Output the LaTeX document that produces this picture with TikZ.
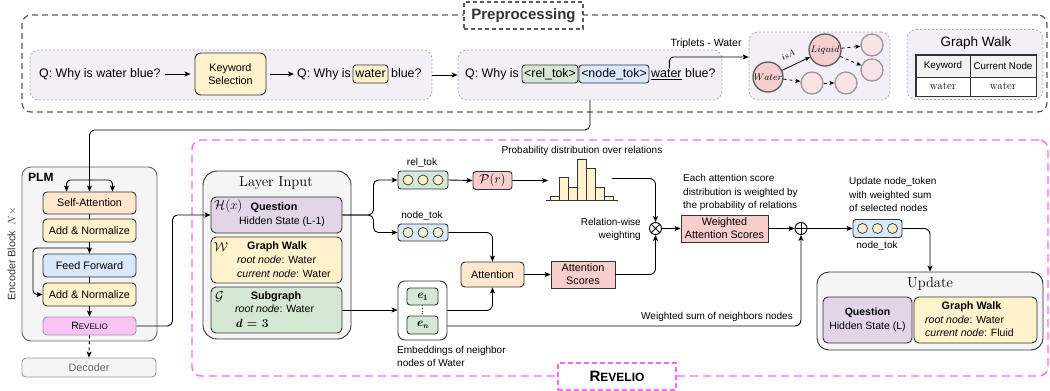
\RequirePackage{fix-cm}
\documentclass[tikz,border=0pt]{standalone}
\usepackage{fontspec}
\setsansfont{Liberation Sans}
\usetikzlibrary{arrows.meta}

\definecolor{frameGray}{HTML}{5A5A5A}
\definecolor{panelFill}{HTML}{F2F0F6}
\definecolor{panelLine}{HTML}{A8A8A8}
\definecolor{boxLine}{HTML}{333333}
\definecolor{yelFill}{HTML}{FFF2CC}
\definecolor{oraFill}{HTML}{FFE6CC}
\definecolor{bluFill}{HTML}{DAE8FC}
\definecolor{grnFill}{HTML}{D5E8D4}
\definecolor{purFill}{HTML}{E1D5E7}
\definecolor{redFill}{HTML}{F8CECC}
\definecolor{revFill}{HTML}{F9C3F5}
\definecolor{greyFill}{HTML}{F5F5F5}
\definecolor{greyLine}{HTML}{666666}
\definecolor{magLine}{HTML}{FF66FF}
\definecolor{nodePink}{HTML}{F4CDCF}
\definecolor{nodePale}{HTML}{F8E3E6}
\definecolor{nodeRim}{HTML}{999999}
\definecolor{beadFill}{HTML}{F7F0CF}
\definecolor{headFill}{HTML}{F2F2F2}

\newcommand{\fsz}[2]{\fontsize{#1}{#2}\selectfont}
\newcommand{\revname}[1]{R{\fontsize{#1}{#1}\selectfont EVELIO}}
\newcommand{\bvar}[1]{{\rmfamily\bfseries\itshape #1}}

\tikzset{
  arr/.style={draw=black, line width=0.9pt, -{Stealth[length=6pt,width=5pt,inset=1.5pt]}},
  garr/.style={draw=black, line width=0.8pt, -{Stealth[length=5pt,width=4pt,inset=1.2pt]}},
  ln/.style={draw=black, line width=0.9pt},
  box/.style={draw=boxLine, line width=0.9pt, rounded corners=4pt, align=center, font=\sffamily\fsz{10.8}{13}},
  sqbox/.style={box, rounded corners=0pt},
  lbl/.style={font=\sffamily\fsz{10}{13.5}, align=left},
  btxt/.style={font=\sffamily\fsz{10.5}{13}},
  qtxt/.style={font=\sffamily\fsz{12.4}{14}},
  panel/.style={draw=panelLine, line width=0.7pt, dash pattern=on 2pt off 2pt, fill=panelFill, rounded corners=9pt},
  bead/.style={circle, draw=boxLine, line width=0.7pt, fill=beadFill, minimum size=10pt},
  gnode/.style={circle, draw=boxLine!80, fill=nodePink, line width=1.3pt, font=\fsz{9.5}{10}},
  gpale/.style={circle, draw=nodeRim, fill=nodePale, line width=1.3pt, minimum size=22pt},
  opnode/.style={circle, draw=black, line width=0.9pt, minimum size=12pt},
  cell/.style={draw=boxLine, line width=0.7pt},
}

\begin{document}
\begin{tikzpicture}[x=1pt, y=-1pt, every node/.style={inner sep=0pt}]
\useasboundingbox (0,0) rectangle (1050,391);

% ---------------- preprocessing stage ----------------
\node[draw=frameGray, line width=1.2pt, dash pattern=on 6pt off 4pt, rounded corners=9pt,
      minimum width=1025pt, minimum height=97pt] (preF) at (534.5,63.5) {};
\node[draw=frameGray, fill=white, line width=1.1pt, dash pattern=on 4pt off 3pt,
      minimum width=119pt, minimum height=27pt, font=\sffamily\bfseries\fsz{15}{15}, text=boxLine] (preT) at (523.5,15.5) {Preprocessing};

\node[panel, minimum width=402pt, minimum height=50pt] (p1) at (231,75) {};
\node[qtxt, anchor=base west] (q1) at (39,77.5) {Q: Why is water blue?};
\node[box, fill=yelFill, rounded corners=6pt, minimum width=71pt, minimum height=42pt] (kw) at (230.5,74) {Keyword\\Selection};
\draw[arr, shorten <=4pt, shorten >=4pt] (q1.east |- kw.west) -- (kw.west);
\node[qtxt, anchor=base west] (q2a) at (297,77.5) {Q: Why is};
\node[box, fill=yelFill, rounded corners=3pt, font=\sffamily\fsz{12.4}{14}, minimum width=35pt, minimum height=18pt] (q2w) at (370.5,74) {water};
\node[qtxt, anchor=base west] (q2b) at (391,77.5) {blue?};
\draw[arr, shorten <=4pt, shorten >=3pt] (kw.east) -- (kw.east -| q2a.west);

\node[panel, minimum width=264pt, minimum height=50pt] (p2) at (590,75) {};
\draw[arr] (p1.east) -- (p2.west);
\node[qtxt, anchor=base west] (q3a) at (465,77.5) {Q: Why is};
\node[box, fill=grnFill, rounded corners=3pt, font=\sffamily\fsz{12.4}{14}, minimum width=56pt, minimum height=18pt] (q3r) at (550,74) {<rel\_tok>};
\node[box, fill=bluFill, rounded corners=3pt, font=\sffamily\fsz{12.4}{14}, minimum width=70pt, minimum height=18pt] (q3n) at (614,74) {<node\_tok>};
\node[qtxt, anchor=base west] (q3w) at (651,77.5) {\underline{water}};
\node[qtxt, anchor=base west] (q3b) at (685,77.5) {blue?};

% retrieved triplets
\node[panel, minimum width=141pt, minimum height=68pt] (gp) at (819.5,66) {};
\draw[arr, rounded corners=4pt] ([xshift=3pt,yshift=1pt]q3w.north) |- ([yshift=9pt]gp.west);
\node[lbl, font=\sffamily\fsz{10.5}{12}] (tripL) at (706,44) {Triplets - Water};

\node[gnode, minimum size=30pt] (gWater) at (768,77) {$Water$};
\node[gnode, minimum size=32pt] (gLiquid) at (825,50) {$Liquid$};
\node[gpale] (g1) at (872,45) {};
\node[gpale] (g2) at (872,70) {};
\node[gpale] (g3) at (812,83) {};
\node[gpale] (g4) at (846,83) {};
\draw[garr] (gWater) -- (gLiquid);
\node[font=\fsz{8.5}{9}, rotate=27] (isaL) at (788,55) {$isA$};
\draw[garr, dashed] (gLiquid) -- (g1);
\draw[garr, dashed] (gLiquid) -- (g2);
\draw[garr, dashed] (gWater) -- (g3);
\draw[garr, dashed] (g3) -- (g4);

% graph walk table
\node[panel, minimum width=136pt, minimum height=70pt] (gwp) at (975,64.5) {};
\node[font=\sffamily\fsz{13.5}{15}] (gwpT) at (976,43) {Graph Walk};
\node[cell, fill=headFill, minimum width=54pt, minimum height=22pt, font=\sffamily\fsz{9.8}{11}] (k1) at (943,66) {Keyword};
\node[cell, fill=headFill, minimum width=66pt, minimum height=22pt, font=\sffamily\fsz{9.8}{11}] (c1) at (1003,66) {Current Node};
\node[cell, fill=white, minimum width=54pt, minimum height=19pt, font=\rmfamily\fsz{11}{12}] (k2) at (943,86.5) {water};
\node[cell, fill=white, minimum width=66pt, minimum height=19pt, font=\rmfamily\fsz{11}{12}] (c2) at (1003,86.5) {water};
\draw[boxLine, line width=1.2pt] (k1.north west) rectangle (c2.south east);

% ---------------- language model ----------------
\node[rotate=90, font=\sffamily\fsz{10.8}{13}, text=boxLine] (encL) at (12,254) {Encoder Block\hspace{5pt}$N\times$};
\node[draw=greyLine, fill=greyFill, line width=0.9pt, rounded corners=9pt, minimum width=135pt, minimum height=174pt] (plm) at (89.5,254) {};
\node[anchor=west, font=\sffamily\bfseries\fsz{12}{14}] (plmT) at (28,177.5) {PLM};

\node[box, fill=oraFill, minimum width=93pt, minimum height=22pt] (sa) at (89.5,203) {Self-Attention};
\node[box, fill=yelFill, minimum width=93pt, minimum height=23pt] (an1) at (89.5,230.5) {Add \& Normalize};
\node[box, fill=bluFill, minimum width=93pt, minimum height=23pt] (ff) at (89.5,265.5) {Feed Forward};
\node[box, fill=yelFill, minimum width=93pt, minimum height=23pt] (an2) at (89.5,294.5) {Add \& Normalize};
\node[box, draw=nodeRim, fill=revFill, minimum width=93pt, minimum height=18pt, font=\sffamily\fsz{10.5}{12}] (rev) at (89.5,326) {\revname{8}};
\node[box, draw=nodeRim, fill=greyFill, minimum width=134pt, minimum height=19pt, text=greyLine] (dec) at (89,367.5) {Decoder};

\coordinate (inbend) at (89.5,130);
\coordinate (split) at (89.5,180);
\coordinate (resid) at (89.5,248);
\draw[arr, rounded corners=5pt] (p2.south) |- (inbend) -- (sa.north);
\draw[arr, rounded corners=4pt] (split) -| ([xshift=-23pt]sa.north);
\draw[arr, rounded corners=4pt] (split) -| ([xshift=23pt]sa.north);
\draw[ln] (sa.south) -- (an1.north);
\draw[arr] (an1.south) -- (ff.north);
\draw[arr, rounded corners=4pt] (resid) -- ++(-56.5,0) |- (an2.west);
\draw[ln] (ff.south) -- (an2.north);
\draw[arr] (an2.south) -- (rev.north);
\draw[arr, dashed] (rev.south) -- (dec.north);

% ---------------- Revelio module ----------------
\node[draw=magLine, line width=1.4pt, dash pattern=on 8pt off 5pt, rounded corners=9pt,
      minimum width=856pt, minimum height=236pt] (revF) at (620,258) {};
\node[draw=magLine, fill=white, line width=1.3pt, dash pattern=on 5pt off 3pt,
      minimum width=118pt, minimum height=27pt, font=\sffamily\bfseries\fsz{15}{15}] (revT) at (617,376.5) {\revname{12}};

% layer input
\node[draw=boxLine, fill=greyFill, line width=0.9pt, rounded corners=14pt, minimum width=148pt, minimum height=168pt] (li) at (277,255) {};
\node[font=\rmfamily\fsz{14.5}{16}] (liT) at (276,183) {Layer Input};

\node[box, fill=purFill, rounded corners=5pt, minimum width=131pt, minimum height=36pt] (q) at (276.5,215) {};
\node[anchor=west, font=\fsz{13}{14}] (qH) at (214,206) {$\mathcal{H}(x)$};
\node[btxt, font=\sffamily\bfseries\fsz{10.8}{13}] (qT) at (274,208) {Question};
\node[btxt] (qS) at (282,222) {Hidden State (L-1)};

\node[box, fill=yelFill, rounded corners=5pt, minimum width=131pt, minimum height=46pt] (gw) at (276.5,260) {};
\node[anchor=west, font=\fsz{13}{14}] (gwW) at (214,247) {$\mathcal{W}$};
\node[btxt, font=\sffamily\bfseries\fsz{10.8}{13}] (gwT) at (277,247) {Graph Walk};
\node[btxt, anchor=west] (gwR) at (237,260) {\textit{root node}: Water};
\node[btxt, anchor=west] (gwC) at (237,274) {\textit{current node}: Water};

\node[box, fill=grnFill, rounded corners=5pt, minimum width=131pt, minimum height=46pt] (sg) at (276.5,310) {};
\node[anchor=west, font=\fsz{13}{14}] (sgG) at (215,297) {$\mathcal{G}$};
\node[btxt, font=\sffamily\bfseries\fsz{10.8}{13}] (sgT) at (276,297) {Subgraph};
\node[btxt, anchor=west] (sgR) at (235,309) {\textit{root node}: Water};
\node[anchor=west, font=\rmfamily\bfseries\fsz{12}{13}] (sgD) at (235,323) {\bvar{d} = 3};

\draw[arr, rounded corners=5pt] (rev.east) -- ++(36,0) |- (q.west);

% token streams
\node[box, fill=grnFill, rounded corners=3pt, minimum width=50pt, minimum height=18pt] (rel) at (423,180) {};
\foreach \dx [count=\k] in {-15,0,15} \node[bead] (rb\k) at ([xshift=\dx pt]rel.center) {};
\node[lbl] (relL) at (422,163) {rel\_tok};
\node[box, fill=bluFill, rounded corners=3pt, minimum width=50pt, minimum height=17pt] (nt1) at (423,232.5) {};
\foreach \dx [count=\k] in {-15,0,15} \node[bead] (nb\k) at ([xshift=\dx pt]nt1.center) {};
\node[lbl] (ntL) at (422,216) {node\_tok};

\draw[arr, rounded corners=5pt] (q.east) -- ++(31,0) |- (rel.west);
\draw[arr, rounded corners=5pt] (q.east) -- ++(31,0) |- (nt1.west);

\node[box, fill=redFill, rounded corners=3pt, minimum width=39pt, minimum height=18pt, font=\fsz{13}{14}] (pr) at (492.5,180.5) {$\mathcal{P}(r)$};
\draw[arr] (rel.east) -- (pr.west);

% relation distribution
\coordinate (histin) at (548,180.5);
\coordinate (histout) at (612,178.5);
\foreach \h [count=\i from 0] in {196,177,187,159,168,187,196}
  \draw[draw=boxLine, fill=yelFill, line width=0.8pt] ({550+9.1*\i},200.5) rectangle ({559.1+9.1*\i},\h);
\draw[boxLine, line width=1.1pt] (546,200.5) -- (618,200.5);
\draw[arr] (pr.east) -- (histin);
\node[lbl] (probL) at (582,151) {Probability distribution over relations};

\node[opnode] (ot) at (655.5,228.5) {};
\draw[line width=0.9pt] (ot.north east) -- (ot.south west) (ot.north west) -- (ot.south east);
\draw[arr, rounded corners=6pt] (histout) -| (ot.north);
\node[lbl, anchor=east, align=right] (rwL) at (641,229.5) {Relation-wise\\weighting};

% neighbour attention
\node[box, fill=oraFill, rounded corners=4pt, minimum width=63pt, minimum height=25pt] (att) at (492.5,274.5) {Attention};
\node[sqbox, fill=redFill, minimum width=64pt, minimum height=27pt] (as) at (583,274.5) {Attention\\Scores};
\draw[arr, rounded corners=6pt] (nt1.east) -| (att.north);
\draw[arr] (att.east) -- (as.west);
\draw[arr, rounded corners=6pt] (as.east) -| (ot.south);

\node[draw=boxLine, fill=white, line width=0.9pt, rounded corners=7pt, minimum width=49pt, minimum height=59pt] (emb) at (422.5,310.5) {};
\node[box, fill=grnFill, rounded corners=3pt, minimum width=31pt, minimum height=17pt, font=\rmfamily\bfseries\fsz{12}{13}] (e1) at (422.5,296.5) {\bvar{e}\textsubscript{1}};
\node[box, fill=grnFill, rounded corners=3pt, minimum width=31pt, minimum height=18pt, font=\rmfamily\bfseries\fsz{12}{13}] (en) at (422.5,325) {\bvar{e}\textsubscript{\bvar{n}}};
\draw[line width=0.6pt, dotted] (e1.south) -- (en.north);
\node[lbl, anchor=north west] (embL) at (397,346) {Embeddings of neighbor\\nodes of Water};

\draw[arr] (sg.east) -- (sg.east -| emb.west);
\draw[arr, rounded corners=6pt] (emb.east) -| (att.south);

% weighting and aggregation
\node[sqbox, fill=redFill, minimum width=87pt, minimum height=27pt] (was) at (724.5,228.5) {Weighted\\Attention Scores};
\node[lbl, anchor=north west] (eaL) at (683,174.3) {Each attention score\\distribution is weighted by\\the probability of relations};
\draw[arr] (ot.east) -- (was.west);

\node[opnode] (op) at (801,228.5) {};
\draw[line width=0.9pt] (op.north) -- (op.south) (op.west) -- (op.east);
\draw[arr] (was.east) -- (op.west);
\draw[arr, rounded corners=6pt] ([yshift=-15.5pt]emb.east) -| (op.south);
\node[lbl, anchor=east] (wsL) at (793,317) {Weighted sum of neighbors nodes};

\node[box, fill=bluFill, rounded corners=3pt, minimum width=49pt, minimum height=18pt] (nt2) at (877.5,228.5) {};
\foreach \dx [count=\k] in {-15,0,15} \node[bead] (ub\k) at ([xshift=\dx pt]nt2.center) {};
\node[lbl] (nt2L) at (877,246) {node\_tok};
\node[lbl, anchor=north west] (upL) at (849,177.3) {Update node\_token\\with weighted sum\\of selected nodes};
\draw[arr] (op.east) -- (nt2.west);

% updated state
\node[draw=boxLine, fill=greyFill, line width=0.9pt, rounded corners=12pt, minimum width=226pt, minimum height=78pt] (upd) at (930,311) {};
\node[font=\rmfamily\fsz{14.5}{16}] (updT) at (930,284) {Update};
\draw[arr, rounded corners=6pt] (nt2.east) -| (upd.north);

\node[box, fill=purFill, rounded corners=5pt, minimum width=89pt, minimum height=46pt, font=\sffamily\fsz{10.5}{14}] (uq) at (867.5,320) {\textbf{Question}\\Hidden State (L)};
\node[box, fill=yelFill, rounded corners=5pt, minimum width=123pt, minimum height=46pt] (ugw) at (975.5,320) {};
\node[btxt, font=\sffamily\bfseries\fsz{10.8}{13}] (ugwT) at (971.5,307) {Graph Walk};
\node[btxt, anchor=west] (ugwR) at (925,320) {\textit{root node}: Water};
\node[btxt, anchor=west] (ugwC) at (925,333) {\textit{current node}: Fluid};

\end{tikzpicture}
\end{document}
